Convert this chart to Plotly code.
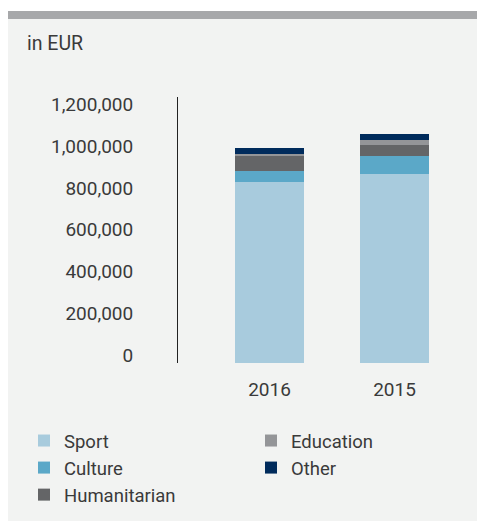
import plotly.graph_objects as go

# Donations by purpose, in EUR
years = ["2016", "2015"]
sport = [865000, 904000]
culture = [53000, 87000]
humanitarian = [72000, 53000]
education = [10000, 24000]
other = [29000, 29000]

y_ticks = [0, 200000, 400000, 600000, 800000, 1000000, 1200000]

W, H = 477, 521
L, R, T, B = 178, 20, 97, 158

PANEL = "#f2f3f2"
TEXT = "#3a3a3a"

series = [
    ("Sport", sport, "#a8cbdd", 1),
    ("Culture", culture, "#5ba8c8", 3),
    ("Humanitarian", humanitarian, "#646567", 5),
    ("Education", education, "#949598", 2),
    ("Other", other, "#002b5c", 4),
]

fig = go.Figure()
for name, vals, color, rank in series:
    fig.add_trace(go.Bar(
        x=years, y=vals, name=name,
        marker=dict(color=color, line=dict(width=0)),
        width=0.552, legendrank=rank,
    ))

# helpers to convert page pixels into paper coordinates
pw, ph = W - L - R, H - T - B
def px_x(x):
    return (x - L) / pw
def px_y(y):
    return 1 - (y - T) / ph

shapes = [
    # white frame strips outside the panel
    dict(type="rect", xref="paper", yref="paper", x0=px_x(0), x1=px_x(W),
         y0=px_y(0), y1=px_y(19), fillcolor="white", line_width=0, layer="below"),
    dict(type="rect", xref="paper", yref="paper", x0=px_x(0), x1=px_x(8),
         y0=px_y(0), y1=px_y(H), fillcolor="white", line_width=0, layer="below"),
    # grey header band
    dict(type="rect", xref="paper", yref="paper", x0=px_x(8), x1=px_x(W),
         y0=px_y(11), y1=px_y(19), fillcolor="#a7a8aa", line_width=0, layer="below"),
]

fig.update_layout(
    width=W, height=H,
    margin=dict(l=L, r=R, t=T, b=B, pad=0, autoexpand=False),
    paper_bgcolor=PANEL, plot_bgcolor=PANEL,
    barmode="stack", bargap=0,
    font=dict(family="Roboto", size=19, color=TEXT),
    shapes=shapes,
    showlegend=True,
    legend=dict(
        orientation="h", xref="paper", yref="paper",
        x=px_x(24), xanchor="left", y=px_y(422), yanchor="top",
        entrywidth=182, entrywidthmode="pixels",
        font=dict(size=18.5, color=TEXT), bgcolor="rgba(0,0,0,0)",
        traceorder="normal", itemclick=False, tracegroupgap=0,
    ),
    annotations=[dict(
        text="in EUR", xref="paper", yref="paper",
        x=px_x(25), y=px_y(44), xanchor="left", yanchor="middle",
        showarrow=False, font=dict(size=19.5, color=TEXT),
    )],
)

fig.update_xaxes(
    type="category", range=[-0.732, 1.5], showgrid=False, zeroline=False,
    showline=False, ticks="", ticklabelstandoff=13,
    tickfont=dict(size=19, color=TEXT),
)
fig.update_yaxes(
    range=[0, 1274500], tickvals=y_ticks, tickformat=",d",
    showgrid=False, zeroline=False, showline=True, linecolor="#222222",
    linewidth=1, ticks="", ticklabelstandoff=40, ticklabelshift=-8,
    tickfont=dict(size=19, color=TEXT),
)

fig.write_html("out.html")
